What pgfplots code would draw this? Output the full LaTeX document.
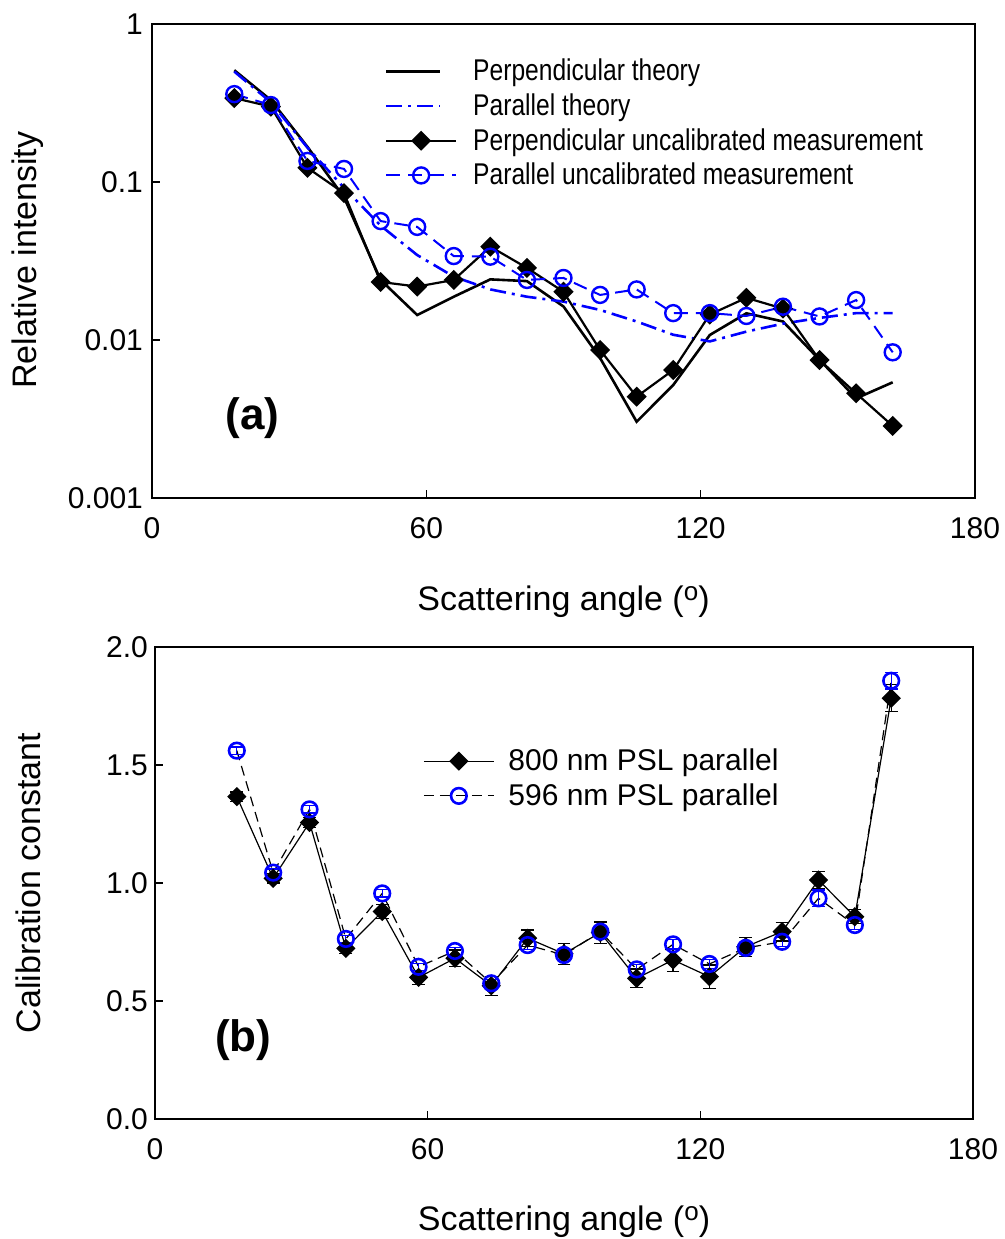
\documentclass[border=0pt]{standalone}
\usepackage{pgfplots}
\pgfplotsset{compat=1.18}
\usepackage{fontspec}
\setmainfont{Liberation Sans}
\newfontfamily\narrowfont[FakeStretch=0.82]{Liberation Sans}
\definecolor{pblue}{RGB}{0,0,255}
\pgfplotstableread{
x y
18 0.51
26 0.33
34 0.167
42 0.08
50 0.024
58 0.0144
66 0.0188
74 0.0242
82 0.0236
90 0.0163
98 0.0077
106 0.00304
114 0.00519
122 0.01076
130 0.01476
138 0.0131
146 0.0075
154 0.00427
162 0.0054
}\perptheory
\pgfplotstableread{
x y
18 0.50
26 0.32
34 0.165
42 0.092
50 0.053
58 0.0345
66 0.0252
74 0.0209
82 0.0188
90 0.0175
98 0.0155
106 0.0131
114 0.0108
122 0.0098
130 0.0113
138 0.0127
146 0.0138
154 0.0148
162 0.0148
}\partheory
\pgfplotstableread{
x y
18 0.34
26 0.30
34 0.123
42 0.085
50 0.0233
58 0.0218
66 0.024
74 0.039
82 0.0286
90 0.0202
98 0.00865
106 0.00438
114 0.00646
122 0.0145
130 0.0185
138 0.0158
146 0.00747
154 0.0046
162 0.00286
}\perpmeas
\pgfplotstableread{
x y
18 0.36
26 0.307
34 0.136
42 0.121
50 0.0566
58 0.052
66 0.034
74 0.0337
82 0.024
90 0.0247
98 0.0193
106 0.0209
114 0.0148
122 0.0148
130 0.0142
138 0.01625
146 0.0141
154 0.0179
162 0.00836
}\parmeas
\pgfplotstableread{
x y e
18 1.366 0.02
26 1.02 0.02
34 1.256 0.02
42 0.723 0.02
50 0.879 0.03
58 0.600 0.03
66 0.681 0.035
74 0.565 0.04
82 0.766 0.035
90 0.70 0.045
98 0.79 0.045
106 0.596 0.04
114 0.674 0.05
122 0.603 0.05
130 0.73 0.04
138 0.794 0.04
146 1.013 0.035
154 0.857 0.03
162 1.783 0.057
}\calA
\pgfplotstableread{
x y e
18 1.561 0.015
26 1.044 0.015
34 1.312 0.015
42 0.763 0.015
50 0.956 0.015
58 0.645 0.015
66 0.712 0.015
74 0.575 0.015
82 0.737 0.02
90 0.695 0.02
98 0.794 0.02
106 0.634 0.02
114 0.740 0.02
122 0.657 0.02
130 0.725 0.02
138 0.751 0.02
146 0.935 0.035
154 0.822 0.02
162 1.857 0.035
}\calB
\pgfplotsset{
  common/.style={
    scale only axis,
    axis line style={line width=0.7pt},
    tick style={line width=0.6pt, black},
    major tick length=4pt,
    minor tick style={draw=none},
    xtick pos=bottom, ytick pos=left,
    tick align=inside,
    xmin=0, xmax=180,
    xtick={0,60,120,180},
    ticklabel style={font=\fontsize{15}{18}\selectfont},
    /pgf/number format/assume math mode=true,
    label style={font=\fontsize{17}{20}\selectfont},
    clip=false,
  },
  mylegimg/.style={legend image code/.code={
    \draw[mark repeat=2,mark phase=2,##1] plot coordinates {(0pt,0pt) (17.5pt,0pt) (35pt,0pt)};}},
  theolegimg/.style={legend image code/.code={
    \draw[##1] (0pt,0pt) -- (27pt,0pt);}},
}
\begin{document}
\begin{tikzpicture}[x=1pt,y=1pt]
\useasboundingbox (-76,12) rectangle (426.5,-607.5);
\begin{axis}[common,
  at={(0pt,0pt)}, anchor=north west,
  width=411.5pt, height=237pt,
  ymode=log, ymin=0.001, ymax=1,
  ytick={0.001,0.01,0.1,1},
  yticklabels={0.001,0.01,0.1,1},
  xlabel={Scattering angle (\raisebox{0.55ex}{\fontsize{13}{15}\selectfont o})},
  ylabel={Relative intensity},
  xlabel style={at={(axis description cs:0.5,-0.218)}, anchor=center},
  ylabel style={at={(axis description cs:-0.151,0.502)}, anchor=center},
  xticklabel style={yshift=-6pt},
  yticklabel style={xshift=-1pt},
  legend style={at={(0.28,0.94)}, anchor=north west, draw=none, fill=none,
    font=\narrowfont\fontsize{15}{18}\selectfont, row sep=1pt, column sep=6pt,
    legend cell align=left, inner sep=1pt},
  mylegimg,
]
\addplot[black, line width=1.3pt, no marks, theolegimg] table[x=x,y=y] {\perptheory};
\addlegendentry{Perpendicular theory}
\addplot[pblue, line width=1.3pt, no marks, dash pattern=on 8pt off 3pt on 1.5pt off 3pt, theolegimg] table[x=x,y=y] {\partheory};
\addlegendentry{Parallel theory}
\addplot[black, line width=1.1pt, mark=square*, mark size=3pt, mark options={rotate=45, solid}] table[x=x,y=y] {\perpmeas};
\addlegendentry{Perpendicular uncalibrated measurement}
\addplot[pblue, line width=1pt, dash pattern=on 7pt off 4pt, mark=o, mark size=4pt, mark options={solid, fill=white, line width=1.2pt}] table[x=x,y=y] {\parmeas};
\addlegendentry{Parallel uncalibrated measurement}
\node[font=\bfseries\fontsize{22}{26}\selectfont] at (axis cs:22,0.0032) {(a)};
\end{axis}
\begin{axis}[common,
  at={(1.5pt,-311.5pt)}, anchor=north west,
  width=409pt, height=236pt,
  ymin=0, ymax=2,
  ytick={0,0.5,1,1.5,2},
  yticklabel style={/pgf/number format/.cd, fixed, fixed zerofill, precision=1},
  xlabel={Scattering angle (\raisebox{0.55ex}{\fontsize{13}{15}\selectfont o})},
  ylabel={Calibration constant},
  xlabel style={at={(axis description cs:0.5,-0.217)}, anchor=center},
  ylabel style={at={(axis description cs:-0.155,0.5)}, anchor=center},
  xticklabel style={yshift=-6pt},
  legend style={at={(0.325,0.798)}, anchor=north west, draw=none, fill=none,
    font=\fontsize{15}{18}\selectfont, row sep=1pt, column sep=5pt,
    legend cell align=left, inner sep=1pt},
  mylegimg,
]
\addplot[black, line width=0.6pt, mark=square*, mark size=3.1pt, mark options={rotate=45, solid},
  error bars/.cd, y dir=both, y explicit,
  error bar style={line width=0.6pt, black, solid},
  error mark options={rotate=90, mark size=3.2pt, line width=0.6pt, black}]
  table[x=x,y=y,y error=e] {\calA};
\addlegendentry{800 nm PSL parallel}
\addplot[black, line width=0.6pt, dash pattern=on 5pt off 3pt, mark=o, mark size=3.9pt,
  mark options={solid, pblue, fill=white, line width=1.3pt},
  error bars/.cd, y dir=both, y explicit,
  error bar style={line width=0.6pt, pblue, solid},
  error mark options={rotate=90, mark size=3.2pt, line width=0.6pt, pblue}]
  table[x=x,y=y,y error=e] {\calB};
\addlegendentry{596 nm PSL parallel}
\node[font=\bfseries\fontsize{22}{26}\selectfont] at (axis cs:19.4,0.335) {(b)};
\end{axis}
\end{tikzpicture}
\end{document}
